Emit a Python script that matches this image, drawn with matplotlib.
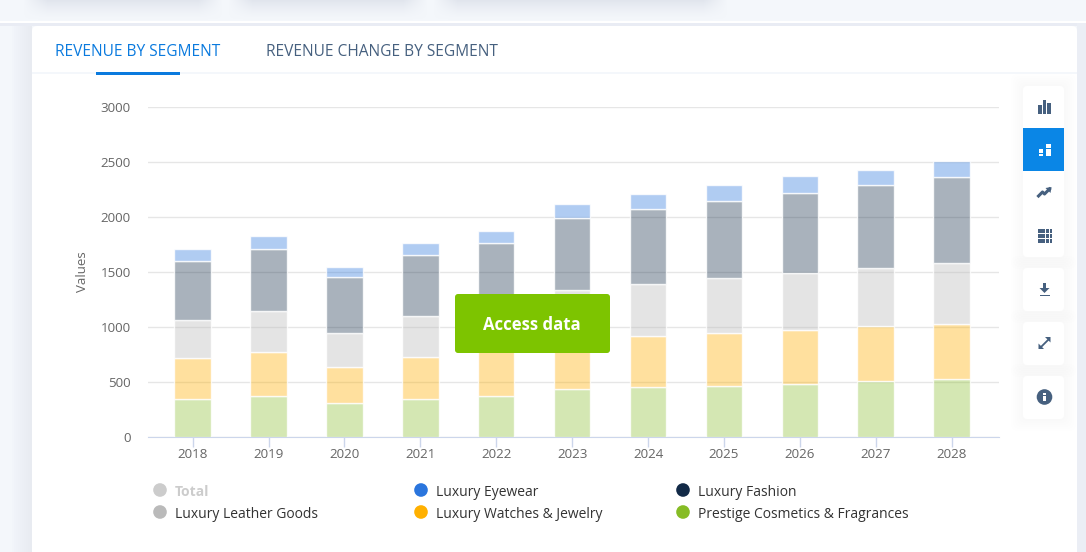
# -*- coding: utf-8 -*-
import matplotlib
matplotlib.use('Agg')
import matplotlib.pyplot as plt
import numpy as np
from matplotlib.colors import to_rgba
from matplotlib.patches import FancyBboxPatch, Rectangle, Circle, Polygon

plt.rcParams['font.family'] = ['Open Sans', 'DejaVu Sans']

#%% Data

years = ['2018', '2019', '2020', '2021', '2022', '2023', '2024', '2025', '2026', '2027', '2028']

cosmetics = [343, 373, 312, 343, 373, 434, 455, 468, 486, 507, 525]
watches = [380, 401, 326, 389, 423, 432, 462, 482, 492, 501, 501]
leather = [339, 373, 312, 373, 400, 476, 473, 495, 518, 531, 562]
fashion = [541, 565, 504, 556, 568, 655, 689, 707, 726, 756, 780]
eyewear = [113, 117, 95, 107, 116, 126, 129, 138, 150, 138, 147]

stack_series = [cosmetics, watches, leather, fashion, eyewear]
stack_colors = ['#86bc25', '#ffb000', '#bababa', '#122a47', '#2a75dd']
stack_alpha = [0.35, 0.38, 0.38, 0.36, 0.37]

y_ticks = [0, 500, 1000, 1500, 2000, 2500, 3000]

legend_names = ['Total', 'Luxury Eyewear', 'Luxury Fashion',
                'Luxury Leather Goods', 'Luxury Watches & Jewelry',
                'Prestige Cosmetics & Fragrances']
legend_colors = ['#cccccc', '#2a75dd', '#122a47', '#bababa', '#ffb000', '#86bc25']

#%% Page background, in pixel coordinates

W, H = 1086, 552
fig = plt.figure(figsize=(W / 100, H / 100), dpi=100, facecolor='#f4f7fb')

bg = fig.add_axes([0, 0, 1, 1], zorder=0)
bg.set_xlim(0, W)
bg.set_ylim(H, 0)
bg.axis('off')


def box(axis, x0, y0, x1, y1, color, r=0, alpha=1.0, z=1):
    if r == 0:
        p = Rectangle((x0, y0), x1 - x0, y1 - y0, fc=color, ec='none', alpha=alpha, zorder=z)
    else:
        p = FancyBboxPatch((x0 + r, y0 + r), x1 - x0 - 2 * r, y1 - y0 - 2 * r,
                           boxstyle='round,pad=%s,rounding_size=%s' % (r, r),
                           fc=color, ec='none', alpha=alpha, zorder=z)
    axis.add_patch(p)


# blurred cards cut off at the top of the page, shadow fades out by y=20
px = np.arange(W)
fade_x = np.zeros(W)
for x0, x1 in [(35, 210), (240, 415), (445, 715)]:
    fade_x = np.maximum(fade_x, np.clip((px - x0 + 12) / 24, 0, 1) * np.clip((x1 + 12 - px) / 24, 0, 1))
fade_y = np.clip((20 - np.arange(21)) / 20, 0, 1) ** 1.5
shade = np.zeros((21, W, 4))
shade[..., :3] = to_rgba('#d5dae5')[:3]
shade[..., 3] = np.outer(fade_y, fade_x) * 0.6
bg.imshow(shade, extent=(0, W, 21, 0), aspect='auto', zorder=1, interpolation='bilinear')
bg.set_xlim(0, W)
bg.set_ylim(H, 0)

bg.add_patch(Rectangle((0, 21), W, 2, fc='white', ec='none', zorder=2))
bg.add_patch(Rectangle((0, 23), W, 3, fc='#e9ecf4', ec='none', zorder=2))
bg.add_patch(Rectangle((1077, 23), 9, H, fc='#ebeef5', ec='none', zorder=2))

# soft shadow left of the card
for grow in range(2, 22, 2):
    bg.add_patch(Rectangle((32 - grow, 26), grow, H, fc='#dfe3ee', ec='none', alpha=0.06, zorder=2))

# white card
box(bg, 32, 26, 1077, 600, 'white', r=5, z=3)
bg.add_patch(Rectangle((32, 72), 1045, 2, fc='#f4f7fb', ec='none', zorder=4))
bg.add_patch(Rectangle((96, 72), 84, 3, fc='#0a7ade', ec='none', zorder=5))

bg.text(55, 51.5, 'REVENUE BY SEGMENT', color='#0a7ade', fontsize=11.2, va='center', zorder=5)
bg.text(266, 51.5, 'REVENUE CHANGE BY SEGMENT', color='#46607f', fontsize=11.2, va='center', zorder=5)

#%% Stacked bars

left, right, top, bottom = 148, 999, 107.5, 437
ax = fig.add_axes([left / W, 1 - bottom / H, (right - left) / W, (bottom - top) / H], zorder=1)
ax.patch.set_alpha(0)

x = np.arange(len(years))
step = 75.9
base = np.zeros(len(years))
for values, color, alpha in zip(stack_series, stack_colors, stack_alpha):
    ax.bar(x, values, width=36.5 / step, bottom=base, color=to_rgba(color, alpha),
           edgecolor=to_rgba('white', 0.8), linewidth=1, zorder=3)
    base = base + np.array(values)

ax.set_xlim((left - 192.6) / step, (right - 192.6) / step)
ax.set_ylim(0, 3000)
ax.set_xticks(x)
ax.set_xticklabels(years)
ax.set_yticks(y_ticks)
ax.grid(axis='y', color='#e6e6e6', linewidth=1, zorder=1)
ax.set_axisbelow(True)
for name in ['top', 'right', 'left']:
    ax.spines[name].set_visible(False)
ax.spines['bottom'].set_color('#ccd6eb')
ax.tick_params(axis='x', length=7, width=1, color='#ccd6eb', labelcolor='#666666', labelsize=9.6, pad=1)
ax.tick_params(axis='y', length=0, labelcolor='#666666', labelsize=9.6, pad=12.5)
ax.set_ylabel('Values', color='#666666', fontsize=9.5)
ax.yaxis.set_label_coords((89 - left) / (right - left), (bottom - 272) / (bottom - top))

#%% Overlay: legend, button, toolbar

top_ax = fig.add_axes([0, 0, 1, 1], zorder=5)
top_ax.set_xlim(0, W)
top_ax.set_ylim(H, 0)
top_ax.axis('off')
top_ax.patch.set_alpha(0)

legend_x = [160, 421, 683]
legend_y = [490, 512]
for i, (name, color) in enumerate(zip(legend_names, legend_colors)):
    lx = legend_x[i % 3]
    ly = legend_y[i // 3]
    top_ax.add_patch(Circle((lx, ly), 6.8, fc=color, ec='none'))
    if name == 'Total':
        top_ax.text(lx + 15, ly + 2, name, color='#cccccc', fontsize=10, fontweight='bold', va='center')
    else:
        top_ax.text(lx + 15, ly + 2, name, color='#333333', fontsize=10, va='center')

box(top_ax, 455, 294, 610, 353, '#7dc400', r=3, z=3)
top_ax.text(532, 324.5, 'Access data', color='white', fontsize=12.1, fontweight='bold',
            ha='center', va='center', zorder=4)

for y0, y1 in [(86, 257), (268, 311), (322, 365), (376, 419)]:
    for grow in range(2, 14, 2):
        box(top_ax, 1023 - grow, y0 - grow, 1064 + grow, y1 + grow, '#e6eaf2', r=8, alpha=0.03, z=1)
    box(top_ax, 1023, y0, 1064, y1, 'white', r=4, z=2)
top_ax.add_patch(Rectangle((1023, 128), 41, 43, fc='#0a86e6', ec='none', zorder=3))

ic = '#46607f'
cx = 1044.5
# column chart icon
for dx, h in [(-4.6, 9), (0, 14), (4.6, 11)]:
    top_ax.add_patch(Rectangle((cx + dx - 1.7, 114 - h), 3.4, h, fc=ic, ec='none', zorder=4))
# stacked icon
for x0, y0, y1 in [(-6, 149, 152.5), (-6, 153.5, 156), (1.5, 144, 148), (1.5, 149, 156)]:
    top_ax.add_patch(Rectangle((cx + x0, y0), 4.5, y1 - y0, fc='white', ec='none', zorder=4))
# trend icon
top_ax.plot([cx - 6, cx - 2, cx, cx + 5], [196, 192, 194, 189], color=ic, lw=2.2, zorder=4)
top_ax.add_patch(Polygon([[cx + 1, 188], [cx + 7, 187], [cx + 6, 193]], fc=ic, ec='none', zorder=4))
# table icon
for y0 in [229, 234, 239]:
    top_ax.add_patch(Rectangle((cx - 6.5, y0), 7, 3.8, fc=ic, ec='none', zorder=4))
    top_ax.add_patch(Rectangle((cx + 1.5, y0), 2.5, 3.8, fc=ic, ec='none', zorder=4))
    top_ax.add_patch(Rectangle((cx + 5, y0), 2.5, 3.8, fc=ic, ec='none', zorder=4))
# download icon
top_ax.add_patch(Rectangle((cx - 1.5, 283), 3, 5, fc=ic, ec='none', zorder=4))
top_ax.add_patch(Polygon([[cx - 5, 288], [cx + 5, 288], [cx, 293]], fc=ic, ec='none', zorder=4))
top_ax.add_patch(Rectangle((cx - 5, 294.5), 10, 1.8, fc=ic, ec='none', zorder=4))
# expand icon
top_ax.plot([cx - 4, cx + 4], [347.5, 339.5], color=ic, lw=1.3, zorder=4)
top_ax.add_patch(Polygon([[cx + 6, 337], [cx + 6, 342.5], [cx + 0.5, 337]], fc=ic, ec='none', zorder=4))
top_ax.add_patch(Polygon([[cx - 6, 349], [cx - 6, 343.5], [cx - 0.5, 349]], fc=ic, ec='none', zorder=4))
# info icon
top_ax.add_patch(Circle((cx, 397), 7.8, fc=ic, ec='none', zorder=4))
top_ax.add_patch(Rectangle((cx - 1.2, 396), 2.6, 5, fc='white', ec='none', zorder=5))
top_ax.add_patch(Rectangle((cx - 1.2, 392.5), 2.6, 2, fc='white', ec='none', zorder=5))

fig.savefig('out.png', dpi=100, facecolor=fig.get_facecolor())
